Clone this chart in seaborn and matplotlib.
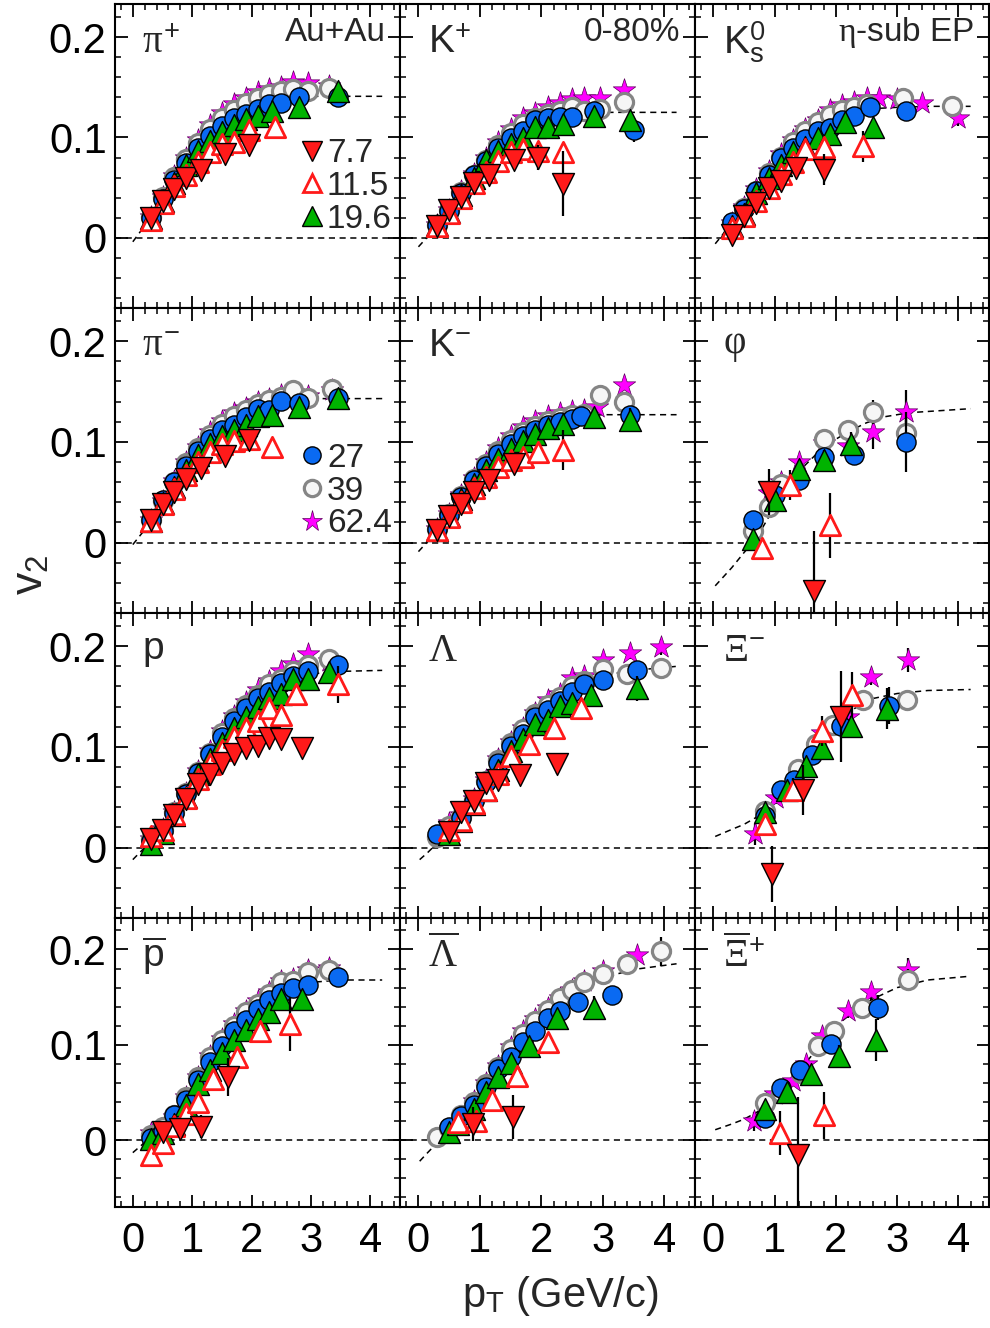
import matplotlib
matplotlib.use("Agg")
import matplotlib.pyplot as plt
from matplotlib.lines import Line2D
from matplotlib.ticker import MultipleLocator, FuncFormatter
import seaborn as sns

sns.set_style("ticks")
plt.rcParams["font.family"] = ["Liberation Sans", "DejaVu Sans"]
plt.rcParams["mathtext.fontset"] = "custom"
plt.rcParams["mathtext.rm"] = "Liberation Serif"
plt.rcParams["mathtext.it"] = "Liberation Serif"
plt.rcParams["mathtext.sf"] = "Liberation Sans"
plt.rcParams["mathtext.bf"] = "Liberation Sans:bold"

# beam energies (GeV), drawn back to front
ENERGIES = ["62.4", "39", "27", "19.6", "11.5", "7.7"]

# ---- data: energy -> (pT, v2[, err]) ----
PI_PLUS = {
    "62.4": ([0.3, 0.5, 0.7, 0.9, 1.1, 1.3, 1.5, 1.7, 1.9, 2.1, 2.3, 2.5, 2.7, 2.95, 3.3],
             [0.021, 0.041, 0.062, 0.080, 0.097, 0.112, 0.124, 0.133, 0.139, 0.145, 0.148, 0.150, 0.155, 0.154, 0.151]),
    "39": ([0.3, 0.5, 0.7, 0.9, 1.1, 1.3, 1.5, 1.7, 1.9, 2.1, 2.3, 2.5, 2.7, 2.95, 3.3],
           [0.021, 0.041, 0.061, 0.079, 0.094, 0.108, 0.119, 0.127, 0.134, 0.139, 0.143, 0.146, 0.148, 0.146, 0.149]),
    "27": ([0.3, 0.5, 0.7, 0.9, 1.1, 1.3, 1.5, 1.7, 1.9, 2.1, 2.3, 2.5, 2.8, 3.45],
           [0.020, 0.039, 0.058, 0.075, 0.089, 0.101, 0.111, 0.119, 0.123, 0.128, 0.133, 0.134, 0.140, 0.140]),
    "19.6": ([0.3, 0.5, 0.7, 0.9, 1.1, 1.3, 1.5, 1.7, 1.9, 2.1, 2.35, 2.8, 3.45],
             [0.020, 0.037, 0.055, 0.073, 0.086, 0.096, 0.105, 0.112, 0.118, 0.121, 0.126, 0.130, 0.146]),
    "11.5": ([0.3, 0.5, 0.7, 0.9, 1.1, 1.3, 1.5, 1.7, 1.95, 2.4],
             [0.018, 0.035, 0.052, 0.063, 0.076, 0.085, 0.093, 0.095, 0.107, 0.110]),
    "7.7": ([0.3, 0.5, 0.7, 0.9, 1.15, 1.55, 1.95],
            [0.020, 0.037, 0.049, 0.060, 0.068, 0.083, 0.092],
            [0, 0, 0, 0, 0.003, 0.004, 0.008]),
}
PI_MINUS = {
    "62.4": ([0.3, 0.5, 0.7, 0.9, 1.1, 1.3, 1.5, 1.7, 1.9, 2.1, 2.3, 2.5, 2.7, 2.95, 3.35],
             [0.022, 0.041, 0.061, 0.080, 0.095, 0.110, 0.121, 0.129, 0.134, 0.140, 0.143, 0.147, 0.150, 0.146, 0.152]),
    "39": ([0.3, 0.5, 0.7, 0.9, 1.1, 1.3, 1.5, 1.7, 1.9, 2.1, 2.3, 2.5, 2.7, 2.95, 3.35],
           [0.022, 0.041, 0.060, 0.079, 0.094, 0.107, 0.118, 0.126, 0.132, 0.138, 0.142, 0.145, 0.152, 0.144, 0.153]),
    "27": ([0.3, 0.5, 0.7, 0.9, 1.1, 1.3, 1.5, 1.7, 1.9, 2.1, 2.3, 2.5, 2.8, 3.45],
           [0.022, 0.042, 0.060, 0.076, 0.091, 0.103, 0.112, 0.117, 0.125, 0.133, 0.132, 0.141, 0.139, 0.144]),
    "19.6": ([0.3, 0.5, 0.7, 0.9, 1.1, 1.3, 1.5, 1.7, 1.9, 2.1, 2.35, 2.8, 3.45],
             [0.021, 0.039, 0.055, 0.072, 0.087, 0.098, 0.106, 0.112, 0.117, 0.126, 0.127, 0.135, 0.144],
             [0, 0, 0, 0, 0, 0, 0, 0, 0, 0, 0, 0, 0.008]),
    "11.5": ([0.3, 0.5, 0.7, 0.9, 1.1, 1.3, 1.5, 1.7, 1.95, 2.35],
             [0.021, 0.038, 0.053, 0.067, 0.080, 0.090, 0.098, 0.101, 0.103, 0.095]),
    "7.7": ([0.3, 0.5, 0.7, 0.9, 1.15, 1.55, 1.95],
            [0.022, 0.038, 0.050, 0.063, 0.074, 0.086, 0.102],
            [0, 0, 0, 0, 0.003, 0.005, 0.009]),
}
K_PLUS = {
    "62.4": ([0.3, 0.5, 0.7, 0.9, 1.1, 1.3, 1.5, 1.7, 1.9, 2.1, 2.3, 2.5, 2.7, 2.95, 3.35],
             [0.013, 0.028, 0.047, 0.064, 0.080, 0.095, 0.108, 0.119, 0.124, 0.130, 0.134, 0.138, 0.139, 0.139, 0.147]),
    "39": ([0.3, 0.5, 0.7, 0.9, 1.1, 1.3, 1.5, 1.7, 1.9, 2.1, 2.3, 2.5, 2.7, 2.95, 3.35],
           [0.013, 0.028, 0.046, 0.063, 0.078, 0.092, 0.104, 0.113, 0.119, 0.123, 0.126, 0.130, 0.126, 0.128, 0.135]),
    "27": ([0.3, 0.5, 0.7, 0.9, 1.1, 1.3, 1.5, 1.7, 1.9, 2.1, 2.3, 2.5, 2.85, 3.5],
           [0.013, 0.027, 0.045, 0.063, 0.077, 0.089, 0.099, 0.106, 0.117, 0.119, 0.120, 0.120, 0.126, 0.107],
           [0, 0, 0, 0, 0, 0, 0, 0, 0, 0, 0, 0, 0, 0.012]),
    "19.6": ([0.3, 0.5, 0.7, 0.9, 1.1, 1.3, 1.5, 1.7, 1.9, 2.1, 2.35, 2.85, 3.45],
             [0.013, 0.026, 0.043, 0.060, 0.078, 0.086, 0.093, 0.099, 0.110, 0.110, 0.113, 0.121, 0.117]),
    "11.5": ([0.3, 0.5, 0.7, 0.9, 1.1, 1.3, 1.5, 1.7, 1.95, 2.35],
             [0.012, 0.025, 0.040, 0.055, 0.066, 0.077, 0.085, 0.088, 0.086, 0.085]),
    "7.7": ([0.3, 0.5, 0.7, 0.9, 1.15, 1.55, 1.95, 2.35],
            [0.012, 0.028, 0.041, 0.055, 0.063, 0.078, 0.080, 0.054],
            [0, 0, 0, 0, 0.003, 0.004, 0.012, 0.032]),
}
K_MINUS = {
    "62.4": ([0.3, 0.5, 0.7, 0.9, 1.1, 1.3, 1.5, 1.7, 1.9, 2.1, 2.3, 2.5, 2.7, 2.9, 3.35],
             [0.013, 0.028, 0.047, 0.064, 0.080, 0.094, 0.106, 0.115, 0.121, 0.126, 0.129, 0.131, 0.132, 0.135, 0.157]),
    "39": ([0.3, 0.5, 0.7, 0.9, 1.1, 1.3, 1.5, 1.7, 1.9, 2.1, 2.3, 2.5, 2.7, 2.95, 3.35],
           [0.013, 0.028, 0.046, 0.063, 0.078, 0.091, 0.102, 0.110, 0.116, 0.121, 0.124, 0.127, 0.128, 0.147, 0.140]),
    "27": ([0.3, 0.5, 0.7, 0.9, 1.1, 1.3, 1.5, 1.7, 1.9, 2.1, 2.3, 2.5, 2.65, 3.45],
           [0.013, 0.027, 0.045, 0.062, 0.076, 0.088, 0.098, 0.106, 0.112, 0.117, 0.120, 0.123, 0.126, 0.127]),
    "19.6": ([0.3, 0.5, 0.7, 0.9, 1.1, 1.3, 1.5, 1.7, 1.9, 2.1, 2.35, 2.85, 3.45],
             [0.012, 0.026, 0.043, 0.058, 0.072, 0.083, 0.093, 0.101, 0.108, 0.114, 0.118, 0.125, 0.122],
             [0, 0, 0, 0, 0, 0, 0, 0, 0, 0, 0, 0, 0.012]),
    "11.5": ([0.3, 0.5, 0.7, 0.9, 1.1, 1.3, 1.5, 1.7, 1.95, 2.35],
             [0.012, 0.025, 0.040, 0.054, 0.065, 0.075, 0.082, 0.085, 0.090, 0.092],
             [0, 0, 0, 0, 0, 0, 0, 0, 0, 0.02]),
    "7.7": ([0.3, 0.5, 0.7, 0.9, 1.15, 1.55],
            [0.012, 0.026, 0.038, 0.050, 0.062, 0.078]),
}
K0S = {
    "62.4": ([0.3, 0.5, 0.7, 0.9, 1.1, 1.3, 1.5, 1.7, 1.9, 2.1, 2.3, 2.5, 2.7, 3.0, 3.4, 4.0],
             [0.015, 0.031, 0.049, 0.067, 0.083, 0.097, 0.108, 0.117, 0.127, 0.132, 0.135, 0.139, 0.139, 0.138, 0.134, 0.119],
             [0, 0, 0, 0, 0, 0, 0, 0, 0, 0, 0, 0, 0, 0, 0.005, 0.008]),
    "39": ([0.3, 0.5, 0.7, 0.9, 1.1, 1.3, 1.5, 1.7, 1.9, 2.1, 2.3, 2.5, 3.1, 3.9],
           [0.015, 0.030, 0.047, 0.065, 0.081, 0.095, 0.106, 0.115, 0.122, 0.127, 0.130, 0.133, 0.139, 0.131],
           [0, 0, 0, 0, 0, 0, 0, 0, 0, 0, 0, 0, 0.004, 0.006]),
    "27": ([0.3, 0.5, 0.7, 0.9, 1.1, 1.3, 1.5, 1.7, 1.9, 2.1, 2.3, 2.55, 3.15],
           [0.016, 0.029, 0.047, 0.063, 0.080, 0.089, 0.098, 0.106, 0.109, 0.117, 0.121, 0.130, 0.126]),
    "19.6": ([0.3, 0.5, 0.7, 0.9, 1.1, 1.3, 1.5, 1.7, 1.9, 2.15, 2.6],
             [0.012, 0.024, 0.045, 0.060, 0.073, 0.085, 0.090, 0.099, 0.103, 0.115, 0.110]),
    "11.5": ([0.3, 0.5, 0.7, 0.9, 1.1, 1.3, 1.5, 1.8, 2.45],
             [0.010, 0.022, 0.037, 0.050, 0.064, 0.076, 0.088, 0.090, 0.091],
             [0, 0, 0, 0, 0, 0, 0, 0, 0.015]),
    "7.7": ([0.3, 0.5, 0.7, 0.9, 1.1, 1.35, 1.8],
            [0.003, 0.022, 0.035, 0.050, 0.057, 0.070, 0.068],
            [0, 0, 0, 0, 0, 0, 0.015]),
}
PHI = {
    "62.4": ([0.9, 1.1, 1.4, 1.8, 2.2, 2.6, 3.15],
             [0.049, 0.060, 0.080, 0.099, 0.096, 0.110, 0.130],
             [0.006, 0.006, 0.006, 0.006, 0.008, 0.017, 0.022]),
    "39": ([0.65, 0.9, 1.1, 1.8, 2.2, 2.6, 3.15],
           [0.011, 0.035, 0.058, 0.103, 0.112, 0.130, 0.109],
           [0.005, 0.008, 0.006, 0.006, 0.007, 0.012, 0.015]),
    "27": ([0.65, 1.0, 1.4, 1.8, 2.3, 3.15],
           [0.022, 0.047, 0.062, 0.085, 0.087, 0.100],
           [0.004, 0.005, 0.005, 0.007, 0.010, 0.030]),
    "19.6": ([0.65, 1.0, 1.4, 1.8, 2.25],
             [0.004, 0.042, 0.073, 0.082, 0.098],
             [0.005, 0.008, 0.008, 0.010, 0.012]),
    "11.5": ([0.8, 1.25, 1.9],
             [-0.005, 0.057, 0.017],
             [0.010, 0.015, 0.032]),
    "7.7": ([0.9, 1.65],
            [0.050, -0.048],
            [0.023, 0.059]),
}
PROTON = {
    "62.4": ([0.3, 0.5, 0.7, 0.9, 1.1, 1.3, 1.5, 1.7, 1.9, 2.1, 2.3, 2.5, 2.7, 2.95, 3.3],
             [0.008, 0.018, 0.035, 0.054, 0.076, 0.096, 0.116, 0.131, 0.145, 0.157, 0.165, 0.175, 0.182, 0.192, 0.185]),
    "39": ([0.3, 0.5, 0.7, 0.9, 1.1, 1.3, 1.5, 1.7, 1.9, 2.1, 2.3, 2.5, 2.7, 2.95, 3.3],
           [0.008, 0.017, 0.035, 0.054, 0.075, 0.094, 0.114, 0.129, 0.142, 0.152, 0.162, 0.167, 0.175, 0.181, 0.187]),
    "27": ([0.3, 0.5, 0.7, 0.9, 1.1, 1.3, 1.5, 1.7, 1.9, 2.1, 2.3, 2.5, 2.7, 2.95, 3.45],
           [0.006, 0.016, 0.034, 0.053, 0.074, 0.093, 0.110, 0.126, 0.139, 0.149, 0.155, 0.163, 0.170, 0.175, 0.181]),
    "19.6": ([0.3, 0.5, 0.7, 0.9, 1.1, 1.3, 1.5, 1.7, 1.9, 2.1, 2.3, 2.5, 2.7, 2.95, 3.3],
             [0.004, 0.014, 0.032, 0.050, 0.073, 0.088, 0.104, 0.119, 0.130, 0.140, 0.149, 0.153, 0.167, 0.167, 0.174]),
    "11.5": ([0.3, 0.5, 0.7, 0.9, 1.1, 1.3, 1.5, 1.7, 1.9, 2.1, 2.3, 2.5, 2.75, 3.45],
             [0.011, 0.017, 0.033, 0.049, 0.068, 0.083, 0.097, 0.110, 0.119, 0.126, 0.139, 0.132, 0.153, 0.162],
             [0, 0, 0, 0, 0, 0, 0, 0, 0, 0, 0, 0, 0, 0.018]),
    "7.7": ([0.3, 0.5, 0.7, 0.9, 1.1, 1.3, 1.5, 1.7, 1.9, 2.1, 2.3, 2.5, 2.85],
            [0.008, 0.017, 0.032, 0.048, 0.063, 0.073, 0.084, 0.093, 0.099, 0.101, 0.109, 0.108, 0.099],
            [0, 0, 0, 0, 0, 0, 0, 0, 0, 0, 0, 0.008, 0.010]),
}
LAMBDA = {
    "62.4": ([0.5, 0.7, 0.9, 1.1, 1.3, 1.5, 1.7, 1.9, 2.1, 2.3, 2.5, 2.7, 3.0, 3.45, 3.95],
             [0.024, 0.032, 0.048, 0.067, 0.088, 0.105, 0.119, 0.134, 0.147, 0.153, 0.168, 0.170, 0.186, 0.193, 0.199],
             [0, 0, 0, 0, 0, 0, 0, 0, 0, 0, 0, 0, 0.005, 0.006, 0.008]),
    "39": ([0.3, 0.5, 0.7, 0.9, 1.1, 1.3, 1.5, 1.7, 1.9, 2.1, 2.3, 2.5, 2.7, 3.0, 3.4, 3.95],
           [0.010, 0.021, 0.030, 0.047, 0.066, 0.087, 0.104, 0.118, 0.133, 0.142, 0.150, 0.160, 0.165, 0.177, 0.172, 0.178],
           [0, 0, 0, 0, 0, 0, 0, 0, 0, 0, 0, 0, 0, 0, 0.006, 0.008]),
    "27": ([0.3, 0.7, 0.9, 1.1, 1.3, 1.5, 1.7, 1.9, 2.1, 2.3, 2.5, 2.7, 3.0, 3.55],
           [0.013, 0.029, 0.046, 0.065, 0.084, 0.101, 0.113, 0.130, 0.137, 0.146, 0.155, 0.162, 0.166, 0.176]),
    "19.6": ([0.5, 0.7, 0.9, 1.1, 1.3, 1.5, 1.7, 1.9, 2.1, 2.3, 2.5, 2.8, 3.55],
             [0.013, 0.026, 0.043, 0.057, 0.077, 0.096, 0.108, 0.123, 0.127, 0.141, 0.144, 0.152, 0.158],
             [0, 0, 0, 0, 0, 0, 0, 0, 0, 0, 0, 0, 0.012]),
    "11.5": ([0.5, 0.7, 0.9, 1.1, 1.3, 1.5, 1.8, 2.2, 2.65],
             [0.017, 0.027, 0.044, 0.057, 0.073, 0.091, 0.103, 0.119, 0.139],
             [0, 0, 0, 0, 0, 0, 0, 0, 0.006]),
    "7.7": ([0.5, 0.7, 0.9, 1.1, 1.3, 1.65, 2.25],
            [0.015, 0.035, 0.046, 0.064, 0.067, 0.072, 0.083],
            [0, 0, 0, 0, 0, 0, 0.010]),
}
XI_MINUS = {
    "62.4": ([0.68, 1.03, 1.78, 2.19, 2.58, 3.17],
             [0.013, 0.049, 0.114, 0.130, 0.169, 0.186],
             [0.010, 0.006, 0.010, 0.010, 0.008, 0.012]),
    "39": ([0.84, 1.38, 1.68, 1.95, 2.45, 3.16],
           [0.036, 0.078, 0.103, 0.122, 0.147, 0.147],
           [0.005, 0.005, 0.005, 0.005, 0.005, 0.005]),
    "27": ([0.84, 1.1, 1.31, 1.61, 2.09, 2.86],
           [0.031, 0.057, 0.067, 0.092, 0.121, 0.141],
           [0.005, 0.005, 0.005, 0.006, 0.008, 0.018]),
    "19.6": ([0.84, 1.21, 1.51, 1.78, 2.24, 2.84],
             [0.035, 0.057, 0.081, 0.099, 0.121, 0.138],
             [0.006, 0.006, 0.007, 0.008, 0.010, 0.020]),
    "11.5": ([0.84, 1.30, 1.78, 2.27],
             [0.023, 0.057, 0.116, 0.152],
             [0.010, 0.012, 0.015, 0.022]),
    "7.7": ([0.96, 1.46, 2.08],
            [-0.026, 0.057, 0.130],
            [0.028, 0.025, 0.045]),
}
PBAR = {
    "62.4": ([0.3, 0.5, 0.7, 0.9, 1.1, 1.3, 1.5, 1.7, 1.9, 2.1, 2.3, 2.5, 2.7, 2.95, 3.3],
             [0.008, 0.012, 0.024, 0.045, 0.066, 0.088, 0.106, 0.122, 0.136, 0.146, 0.155, 0.167, 0.169, 0.178, 0.181]),
    "39": ([0.3, 0.5, 0.7, 0.9, 1.1, 1.3, 1.5, 1.7, 1.9, 2.1, 2.3, 2.5, 2.7, 2.95, 3.3],
           [0.006, 0.014, 0.026, 0.045, 0.066, 0.087, 0.105, 0.120, 0.134, 0.143, 0.153, 0.166, 0.167, 0.176, 0.179]),
    "27": ([0.3, 0.5, 0.7, 0.9, 1.1, 1.3, 1.5, 1.7, 1.9, 2.1, 2.3, 2.5, 2.7, 2.95, 3.45],
           [0.002, 0.010, 0.026, 0.042, 0.063, 0.082, 0.099, 0.115, 0.126, 0.138, 0.147, 0.154, 0.160, 0.163, 0.171],
           [0, 0, 0, 0, 0, 0, 0, 0, 0, 0, 0, 0, 0, 0, 0.006]),
    "19.6": ([0.3, 0.5, 0.7, 0.9, 1.1, 1.3, 1.5, 1.7, 1.9, 2.1, 2.3, 2.5, 2.85],
             [0.001, 0.008, 0.017, 0.037, 0.059, 0.074, 0.091, 0.105, 0.116, 0.127, 0.134, 0.148, 0.148],
             [0, 0, 0, 0, 0, 0, 0, 0, 0, 0, 0, 0, 0.008]),
    "11.5": ([0.3, 0.5, 0.7, 0.9, 1.1, 1.35, 1.75, 2.15, 2.65],
             [-0.016, -0.003, 0.015, 0.027, 0.040, 0.064, 0.087, 0.115, 0.122],
             [0, 0, 0, 0, 0, 0, 0, 0.008, 0.028]),
    "7.7": ([0.5, 0.8, 1.15, 1.6],
            [0.009, 0.012, 0.014, 0.066],
            [0.004, 0.006, 0.012, 0.020]),
}
LAMBDA_BAR = {
    "62.4": ([0.9, 1.1, 1.3, 1.5, 1.7, 1.9, 2.1, 2.3, 2.5, 2.7, 3.0, 3.55],
             [0.041, 0.060, 0.078, 0.098, 0.115, 0.127, 0.139, 0.149, 0.157, 0.167, 0.177, 0.194]),
    "39": ([0.3, 0.5, 0.7, 0.9, 1.1, 1.3, 1.5, 1.7, 1.9, 2.1, 2.3, 2.5, 2.7, 3.0, 3.4, 3.95],
           [0.003, 0.013, 0.026, 0.040, 0.059, 0.077, 0.096, 0.111, 0.125, 0.137, 0.149, 0.157, 0.166, 0.174, 0.185, 0.198],
           [0, 0, 0, 0, 0, 0, 0, 0, 0, 0, 0, 0, 0, 0, 0, 0.015]),
    "27": ([0.5, 0.7, 0.9, 1.1, 1.3, 1.5, 1.7, 1.9, 2.1, 2.3, 2.6, 3.15],
           [0.014, 0.025, 0.037, 0.056, 0.075, 0.087, 0.103, 0.115, 0.128, 0.135, 0.145, 0.152]),
    "19.6": ([0.5, 0.65, 0.9, 1.1, 1.3, 1.5, 1.8, 2.25, 2.85],
             [0.009, 0.017, 0.033, 0.051, 0.066, 0.081, 0.099, 0.128, 0.139],
             [0, 0, 0, 0, 0, 0, 0, 0, 0.012]),
    "11.5": ([0.65, 0.93, 1.2, 1.6, 2.1],
             [0.019, 0.020, 0.042, 0.067, 0.103],
             [0, 0.008, 0, 0, 0.008]),
    "7.7": ([0.88, 1.54],
            [0.017, 0.024],
            [0.018, 0.023]),
}
XI_PLUS = {
    "62.4": ([0.66, 1.01, 1.3, 1.51, 1.78, 2.19, 2.57, 3.18],
             [0.020, 0.048, 0.062, 0.080, 0.109, 0.135, 0.155, 0.179],
             [0.010, 0.005, 0.005, 0.005, 0.006, 0.007, 0.008, 0.012]),
    "39": ([0.84, 1.11, 1.43, 1.71, 1.97, 2.43, 3.18],
           [0.039, 0.049, 0.070, 0.099, 0.115, 0.139, 0.168],
           [0.006, 0.006, 0.006, 0.007, 0.008, 0.008, 0.012]),
    "27": ([0.84, 1.11, 1.41, 1.92, 2.68],
           [0.023, 0.055, 0.074, 0.101, 0.139],
           [0.006, 0.006, 0.007, 0.008, 0.013]),
    "19.6": ([0.84, 1.21, 1.59, 2.05, 2.66],
             [0.033, 0.051, 0.069, 0.088, 0.105],
             [0.008, 0.008, 0.008, 0.012, 0.022]),
    "11.5": ([1.08, 1.80],
             [0.008, 0.026],
             [0.023, 0.025]),
    "7.7": ([1.38], [-0.015], [0.060]),
}

# ---- dashed fit curves ----
FIT_PI_PLUS = ([0.0, 0.15, 0.3, 0.5, 0.7, 0.9, 1.1, 1.3, 1.5, 1.7, 1.9, 2.1, 2.4, 2.7, 3.0, 3.5, 4.2],
               [-0.004, 0.008, 0.021, 0.040, 0.059, 0.076, 0.091, 0.104, 0.115, 0.124, 0.130, 0.135, 0.139, 0.141, 0.141, 0.141, 0.141])
FIT_PI_MINUS = ([0.0, 0.15, 0.3, 0.5, 0.7, 0.9, 1.1, 1.3, 1.5, 1.7, 1.9, 2.1, 2.4, 2.7, 3.0, 3.5, 4.2],
                [-0.002, 0.009, 0.022, 0.041, 0.060, 0.078, 0.093, 0.106, 0.117, 0.126, 0.132, 0.137, 0.141, 0.143, 0.143, 0.143, 0.143])
FIT_K_PLUS = ([0.0, 0.15, 0.3, 0.5, 0.7, 0.9, 1.1, 1.3, 1.5, 1.7, 1.9, 2.1, 2.4, 2.7, 3.0, 3.5, 4.2],
              [-0.009, 0.001, 0.012, 0.027, 0.045, 0.062, 0.077, 0.090, 0.101, 0.109, 0.115, 0.119, 0.123, 0.125, 0.125, 0.125, 0.125])
FIT_K_MINUS = ([0.0, 0.15, 0.3, 0.5, 0.7, 0.9, 1.1, 1.3, 1.5, 1.7, 1.9, 2.1, 2.4, 2.7, 3.0, 3.5, 4.2],
               [-0.009, 0.001, 0.012, 0.027, 0.045, 0.062, 0.077, 0.090, 0.101, 0.110, 0.116, 0.120, 0.124, 0.126, 0.127, 0.127, 0.127])
FIT_K0S = ([0.03, 0.15, 0.3, 0.5, 0.7, 0.9, 1.1, 1.3, 1.5, 1.7, 1.9, 2.1, 2.4, 2.7, 3.0, 3.5, 4.2],
           [-0.006, 0.003, 0.014, 0.030, 0.048, 0.065, 0.081, 0.095, 0.106, 0.115, 0.121, 0.125, 0.128, 0.129, 0.130, 0.131, 0.131])
FIT_PHI = ([0.03, 0.3, 0.5, 0.7, 0.9, 1.1, 1.3, 1.5, 1.7, 1.9, 2.2, 2.5, 2.8, 3.2, 3.7, 4.2],
           [-0.043, -0.025, -0.010, 0.004, 0.025, 0.045, 0.062, 0.077, 0.089, 0.099, 0.110, 0.119, 0.125, 0.129, 0.131, 0.133])
FIT_PROTON = ([0.0, 0.15, 0.3, 0.5, 0.7, 0.9, 1.1, 1.3, 1.5, 1.7, 1.9, 2.1, 2.3, 2.5, 2.8, 3.1, 3.5, 4.2],
              [-0.012, -0.003, 0.006, 0.018, 0.034, 0.053, 0.073, 0.093, 0.111, 0.127, 0.140, 0.150, 0.158, 0.164, 0.170, 0.173, 0.175, 0.176])
FIT_LAMBDA = ([0.02, 0.15, 0.3, 0.5, 0.7, 0.9, 1.1, 1.3, 1.5, 1.7, 1.9, 2.1, 2.3, 2.5, 2.8, 3.1, 3.5, 4.2],
              [-0.012, -0.005, 0.004, 0.015, 0.029, 0.046, 0.065, 0.084, 0.101, 0.116, 0.129, 0.140, 0.149, 0.157, 0.166, 0.172, 0.176, 0.180])
FIT_XI_MINUS = ([0.03, 0.3, 0.5, 0.7, 0.9, 1.1, 1.3, 1.5, 1.7, 1.9, 2.1, 2.3, 2.6, 3.0, 3.5, 4.2],
                [0.011, 0.018, 0.023, 0.030, 0.040, 0.055, 0.072, 0.089, 0.105, 0.118, 0.129, 0.138, 0.148, 0.153, 0.156, 0.157])
FIT_PBAR = ([0.0, 0.15, 0.3, 0.5, 0.7, 0.9, 1.1, 1.3, 1.5, 1.7, 1.9, 2.1, 2.3, 2.5, 2.8, 3.1, 3.5, 4.2],
            [-0.013, -0.005, 0.004, 0.015, 0.029, 0.046, 0.065, 0.084, 0.101, 0.116, 0.128, 0.139, 0.148, 0.155, 0.162, 0.166, 0.168, 0.168])
FIT_LAMBDA_BAR = ([0.02, 0.15, 0.3, 0.5, 0.7, 0.9, 1.1, 1.3, 1.5, 1.7, 1.9, 2.1, 2.3, 2.5, 2.8, 3.1, 3.5, 4.2],
                  [-0.022, -0.013, -0.003, 0.010, 0.024, 0.040, 0.058, 0.076, 0.093, 0.108, 0.122, 0.134, 0.144, 0.153, 0.163, 0.172, 0.179, 0.185])
FIT_XI_PLUS = ([0.03, 0.3, 0.5, 0.7, 0.9, 1.1, 1.3, 1.5, 1.7, 1.9, 2.1, 2.3, 2.6, 3.0, 3.5, 4.2],
               [0.011, 0.017, 0.022, 0.029, 0.038, 0.050, 0.064, 0.080, 0.097, 0.112, 0.125, 0.135, 0.148, 0.160, 0.168, 0.172])

PANEL_LABELS = [r"$\pi^{\mathsf{+}}$", r"$\mathsf{K}^{\mathsf{+}}$", r"$\mathsf{K}^{\mathsf{0}}_{\mathsf{s}}$",
                r"$\pi^{\mathsf{-}}$", r"$\mathsf{K}^{\mathsf{-}}$", r"$\varphi$",
                r"$\mathsf{p}$", r"$\Lambda$", r"$\Xi^{\mathsf{-}}$",
                r"$\overline{\mathsf{p}}$", r"$\overline{\Lambda}$", r"$\overline{\Xi}^{\mathsf{+}}$"]
PANEL_DATA = [PI_PLUS, K_PLUS, K0S, PI_MINUS, K_MINUS, PHI,
              PROTON, LAMBDA, XI_MINUS, PBAR, LAMBDA_BAR, XI_PLUS]
PANEL_FITS = [FIT_PI_PLUS, FIT_K_PLUS, FIT_K0S, FIT_PI_MINUS, FIT_K_MINUS, FIT_PHI,
              FIT_PROTON, FIT_LAMBDA, FIT_XI_MINUS, FIT_PBAR, FIT_LAMBDA_BAR, FIT_XI_PLUS]
TOP_RIGHT = ["Au+Au", "0-80%", r"$\eta$-sub EP"]
LEGEND_A = ["7.7", "11.5", "19.6"]   # in the pi+ panel
LEGEND_B = ["27", "39", "62.4"]      # in the pi- panel

RED, GREEN, BLUE, MAGENTA = "#ff1a1a", "#00b300", "#0a6af2", "#ff00ff"
STYLE = {
    "7.7": dict(marker="v", color=RED, edgecolor="black", linewidth=1.0, s=250),
    "11.5": dict(marker="^", color="white", edgecolor=RED, linewidth=2.0, s=215),
    "19.6": dict(marker="^", color=GREEN, edgecolor="black", linewidth=1.0, s=250),
    "27": dict(marker="o", color=BLUE, edgecolor="black", linewidth=1.0, s=190),
    "39": dict(marker="o", color="#f6f6f6", edgecolor="#858585", linewidth=2.3, s=170),
    "62.4": dict(marker="*", color=MAGENTA, edgecolor="#5a005a", linewidth=0.5, s=290),
}

W, H = 990, 1328
COLS = [(115, 400), (400, 695), (695, 989)]
ROWS = [(4, 308), (308, 613), (613, 918), (918, 1207)]

fig = plt.figure(figsize=(W / 100, H / 100), dpi=100)


def legend_handle(e):
    st = STYLE[e]
    return Line2D([], [], linestyle="none", marker=st["marker"],
                  markerfacecolor=st["color"], markeredgecolor=st["edgecolor"],
                  markeredgewidth=st["linewidth"], markersize=st["s"] ** 0.5 * 0.9)


for i in range(12):
    r, c = divmod(i, 3)
    x0, x1 = COLS[c]
    y0, y1 = ROWS[r]
    ax = fig.add_axes([x0 / W, 1 - y1 / H, (x1 - x0) / W, (y1 - y0) / H])

    ax.axhline(0, color="black", lw=1.1, ls=(0, (4, 3)), zorder=1)
    fx, fy = PANEL_FITS[i]
    sns.lineplot(x=fx, y=fy, ax=ax, color="black", lw=1.1, sort=False,
                 estimator=None, zorder=1.5)
    ax.lines[-1].set_linestyle((0, (4, 3)))

    for k, e in enumerate(ENERGIES):
        if e not in PANEL_DATA[i]:
            continue
        series = PANEL_DATA[i][e]
        pt, v2 = series[0], series[1]
        z = 3 + k
        if len(series) > 2:
            ax.errorbar(pt, v2, yerr=series[2], fmt="none", ecolor="black",
                        elinewidth=1.6, capsize=0, zorder=z)
        sns.scatterplot(x=pt, y=v2, ax=ax, legend=False, zorder=z, **STYLE[e])

    ax.set_xlim(-0.3, 4.5)
    ax.set_ylim(-0.07, 0.233)
    ax.xaxis.set_major_locator(MultipleLocator(1))
    ax.xaxis.set_minor_locator(MultipleLocator(0.2))
    ax.yaxis.set_major_locator(MultipleLocator(0.1))
    ax.yaxis.set_minor_locator(MultipleLocator(0.02))
    ax.yaxis.set_major_formatter(FuncFormatter(lambda v, p: f"{v:g}"))
    ax.tick_params(which="both", direction="in", top=True, right=True,
                   labelsize=30, colors="black")
    ax.tick_params(which="major", length=9, width=1.3)
    ax.tick_params(which="minor", length=4.5, width=1.1)
    ax.tick_params(axis="y", pad=6, labelleft=(c == 0))
    ax.tick_params(axis="x", pad=10, labelbottom=(r == 3))
    ax.set_xlabel("")
    ax.set_ylabel("")
    for sp in ax.spines.values():
        sp.set_linewidth(1.5)
        sp.set_color("black")

    ax.text(0.095, 0.875 if r < 3 else 0.87, PANEL_LABELS[i], transform=ax.transAxes,
            fontsize=28, ha="left", va="center")
    if r == 0:
        ax.text(0.95, 0.905, TOP_RIGHT[c], transform=ax.transAxes,
                fontsize=24, ha="right", va="center")

    if i in (0, 3):
        names = LEGEND_A if i == 0 else LEGEND_B
        ax.legend([legend_handle(e) for e in names], names, loc="center left",
                  bbox_to_anchor=(0.65, 0.40), frameon=False, fontsize=24,
                  handlelength=0.7, handletextpad=0.1, labelspacing=0.05,
                  borderpad=0, borderaxespad=0)

fig.text(30 / W, 1 - 575 / H, r"$\mathsf{v}_{\mathsf{2}}$", rotation=90,
         fontsize=32, ha="center", va="center")
fig.text(560 / W, 1 - 1296 / H, r"$\mathsf{p}_{\mathsf{T}}$ (GeV/c)",
         fontsize=30, ha="center", va="center")

fig.savefig("out.png", dpi=100)
